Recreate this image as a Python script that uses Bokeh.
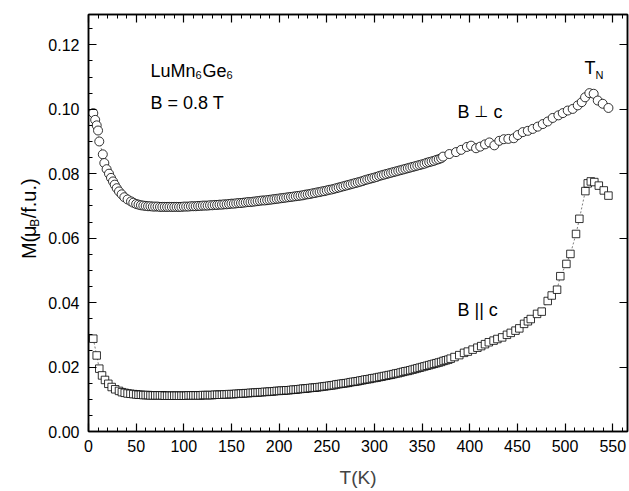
import math
from bokeh.plotting import figure
from bokeh.layouts import row
from bokeh.models import (Range1d, LinearAxis, SingleIntervalTicker, Label,
                          CustomJSTickFormatter, PrintfTickFormatter, ColumnDataSource)
from bokeh.core.properties import value
from bokeh.embed import file_html
from bokeh.resources import INLINE

# ---------------- data ----------------
# B perpendicular to c (circles)
perp_T = [5, 7, 8.6, 10, 11.3, 15, 16.6, 19, 21.5, 23.6, 25.7, 27.5, 29.6, 32, 34.8, 37.6, 41, 44.6, 47, 50,
          52.5, 55, 57.5, 60, 62.5, 65, 67.5, 70, 72.5, 75, 77.5, 80, 82.5, 85, 87.5, 90, 92.5, 95, 97.5, 100,
          102.5, 105, 107.5, 110, 112.5, 115, 117.5, 120, 122.5, 125, 127.5, 130, 132.5, 135, 137.5, 140,
          142.5, 145, 147.5, 150, 152.5, 155, 157.5, 160, 162.5, 165, 167.5, 170, 172.5, 175, 177.5, 180,
          182.5, 185, 187.5, 190, 192.5, 195, 197.5, 200, 202.5, 205, 207.5, 210, 212.5, 215, 217.5, 220,
          222.5, 225, 227.5, 230, 232.5, 235, 237.5, 240, 242.5, 245, 247.5, 250, 252.5, 255, 257.5, 260,
          262.5, 265, 267.5, 270, 272.5, 275, 277.5, 280, 282.5, 285, 287.5, 290, 292.5, 295, 297.5, 300,
          302.5, 305, 307.5, 310, 312.5, 315, 317.5, 320, 322.5, 325, 327.5, 330, 332.5, 335, 337.5, 340,
          342.5, 345, 347.5, 350, 352.5, 355, 357.5, 360, 362.5, 365, 367.5, 370,
          372, 378.6, 385.6, 391, 397, 401.4, 406.6, 411, 416, 420.6, 425.8, 431, 435.7, 440.5, 446.2, 450.4,
          455.6, 460.9, 466, 471.3, 476.6, 481.8, 487, 493, 497.6, 502.8, 508, 513.3, 517.5, 521, 525.5, 530,
          534.3, 539.5, 545.5]
perp_M = [0.0988, 0.0967, 0.0950, 0.0934, 0.0900, 0.0860, 0.0833, 0.0814, 0.0800, 0.0787, 0.0776, 0.0766, 0.0755,
          0.0745, 0.0736, 0.0727, 0.0720, 0.0714, 0.0710, 0.0706,
          0.0704, 0.0702, 0.0701, 0.0700, 0.0699, 0.0699, 0.0698, 0.0698, 0.0698, 0.0697, 0.0697, 0.0697, 0.0697,
          0.0697, 0.0697, 0.0697, 0.0697, 0.0697, 0.0697, 0.0698,
          0.0698, 0.0698, 0.0699, 0.0699, 0.0699, 0.0700, 0.0700, 0.0701, 0.0701, 0.0701, 0.0702, 0.0702, 0.0703,
          0.0703, 0.0704, 0.0704,
          0.0705, 0.0705, 0.0706, 0.0707, 0.0707, 0.0708, 0.0709, 0.0709, 0.0710, 0.0711, 0.0712, 0.0712, 0.0713,
          0.0714, 0.0715, 0.0716,
          0.0717, 0.0717, 0.0718, 0.0719, 0.0720, 0.0721, 0.0722, 0.0723, 0.0724, 0.0725, 0.0726, 0.0727, 0.0728,
          0.0729, 0.0730, 0.0731,
          0.0732, 0.0733, 0.0735, 0.0736, 0.0737, 0.0739, 0.0740, 0.0742, 0.0743, 0.0745, 0.0746, 0.0748, 0.0750,
          0.0751, 0.0753, 0.0755,
          0.0757, 0.0759, 0.0761, 0.0763, 0.0765, 0.0767, 0.0769, 0.0771, 0.0773, 0.0775, 0.0777, 0.0780, 0.0782,
          0.0784, 0.0786, 0.0788,
          0.0790, 0.0793, 0.0795, 0.0797, 0.0799, 0.0801, 0.0803, 0.0805, 0.0807, 0.0809, 0.0811, 0.0813, 0.0815,
          0.0817, 0.0819, 0.0821,
          0.0823, 0.0825, 0.0827, 0.0829, 0.0831, 0.0834, 0.0836, 0.0838, 0.0840, 0.0843, 0.0845, 0.0848,
          0.0853, 0.0861, 0.0867, 0.0874, 0.0883, 0.0887, 0.0879, 0.0884, 0.0891, 0.0897, 0.0888, 0.0902, 0.0907,
          0.0908, 0.0910, 0.0920,
          0.0929, 0.0933, 0.0939, 0.0946, 0.0954, 0.0962, 0.0973, 0.0981, 0.0988, 0.0996, 0.1001, 0.1012, 0.1022,
          0.1037, 0.1050, 0.1048,
          0.1027, 0.1017, 0.1004]

# B parallel to c (squares)
par_T = [5, 8.6, 11.3, 14.2, 17.3, 20.8, 24.3, 28, 32, 35, 38, 41, 44, 47, 50,
         52.5, 55, 57.5, 60, 62.5, 65, 67.5, 70, 72.5, 75, 77.5, 80, 82.5, 85, 87.5, 90, 92.5, 95, 97.5, 100,
         102.5, 105, 107.5, 110, 112.5, 115, 117.5, 120, 122.5, 125, 127.5, 130, 132.5, 135, 137.5, 140,
         142.5, 145, 147.5, 150, 152.5, 155, 157.5, 160, 162.5, 165, 167.5, 170, 172.5, 175, 177.5, 180,
         182.5, 185, 187.5, 190, 192.5, 195, 197.5, 200, 202.5, 205, 207.5, 210, 212.5, 215, 217.5, 220,
         222.5, 225, 227.5, 230, 232.5, 235, 237.5, 240, 242.5, 245, 247.5, 250, 252.5, 255, 257.5, 260,
         262.5, 265, 267.5, 270, 272.5, 275, 277.5, 280, 282.5, 285, 287.5, 290, 292.5, 295, 297.5, 300,
         302.5, 305, 307.5, 310, 312.5, 315, 317.5, 320, 322.5, 325, 327.5, 330, 332.5, 335, 337.5, 340,
         342.5, 345, 347.5, 350, 352.5, 355, 357.5, 360, 362.5, 365, 367.5, 370, 372.5, 375, 377.5, 380,
         384, 389, 394, 398, 403, 408, 412, 416, 420, 425, 429, 434, 439, 443, 448, 452, 457, 461, 464,
         470.6, 475.5, 481.8, 486, 491.6, 495, 501.4, 505.6, 511.5, 515, 521.3, 523.8, 527, 530.7, 535.4,
         540.6, 545.5]
par_M = [0.0288, 0.0236, 0.0195, 0.0174, 0.0160, 0.0148, 0.0138, 0.0131, 0.0126, 0.0122, 0.0120, 0.0118, 0.0117,
         0.0116, 0.0115,
         0.0114, 0.0114, 0.0113, 0.0113, 0.0113, 0.0112, 0.0112, 0.0112, 0.0112, 0.0112, 0.0112, 0.0111, 0.0111,
         0.0111, 0.0111, 0.0111, 0.0111, 0.0111, 0.0111, 0.0111,
         0.0111, 0.0112, 0.0112, 0.0112, 0.0112, 0.0112, 0.0112, 0.0113, 0.0113, 0.0113, 0.0113, 0.0113, 0.0114,
         0.0114, 0.0114, 0.0114,
         0.0115, 0.0115, 0.0116, 0.0116, 0.0116, 0.0117, 0.0117, 0.0118, 0.0118, 0.0119, 0.0119, 0.0120, 0.0120,
         0.0121, 0.0121, 0.0122,
         0.0122, 0.0123, 0.0123, 0.0124, 0.0124, 0.0125, 0.0126, 0.0126, 0.0127, 0.0127, 0.0128, 0.0128, 0.0129,
         0.0130, 0.0130, 0.0131,
         0.0132, 0.0133, 0.0133, 0.0134, 0.0135, 0.0136, 0.0136, 0.0137, 0.0138, 0.0139, 0.0140, 0.0141, 0.0142,
         0.0143, 0.0144, 0.0146,
         0.0147, 0.0148, 0.0149, 0.0150, 0.0151, 0.0153, 0.0154, 0.0155, 0.0156, 0.0158, 0.0159, 0.0161, 0.0162,
         0.0163, 0.0165, 0.0166,
         0.0167, 0.0169, 0.0170, 0.0172, 0.0173, 0.0175, 0.0176, 0.0178, 0.0180, 0.0181, 0.0183, 0.0185, 0.0187,
         0.0188, 0.0190, 0.0192,
         0.0194, 0.0196, 0.0198, 0.0200, 0.0202, 0.0204, 0.0206, 0.0208, 0.0210, 0.0212, 0.0214, 0.0216, 0.0219,
         0.0221, 0.0223, 0.0226,
         0.0231, 0.0237, 0.0244, 0.0248, 0.0254, 0.0260, 0.0265, 0.0271, 0.0277, 0.0282, 0.0287, 0.0292, 0.0300,
         0.0306, 0.0313, 0.0320, 0.0334, 0.0342, 0.0349,
         0.0365, 0.0372, 0.0405, 0.0422, 0.0440, 0.0482, 0.0520, 0.0551, 0.0613, 0.0660, 0.0746, 0.0770, 0.0776,
         0.0774, 0.0763,
         0.0748, 0.0732]

# ---------------- layout constants ----------------
FONT = "Liberation Sans"
SYM_FONT = "DejaVu Sans"
W, H = 629, 491
LW = 44                    # strip on the left holding the rotated y label
L, R, T, B = 88, 2, 14, 60  # frame position in the whole window
XMAX, YMAX = 565.5, 0.1294
FW, FH = W - L - R, H - T - B


def dx(px):  # window px -> data x (text placement only)
    return (px - L) * XMAX / FW


def dy(py):  # window py -> data y (text placement only)
    return (T + FH - py) * YMAX / FH


p = figure(width=W - LW, height=H, output_backend="svg", toolbar_location=None,
           x_range=Range1d(0, XMAX), y_range=Range1d(0, YMAX),
           x_axis_location=None, y_axis_location=None,
           min_border_left=L - LW, min_border_right=R, min_border_top=T, min_border_bottom=B)
p.grid.visible = False
p.outline_line_color = "black"
p.outline_line_width = 1.5
p.background_fill_color = "white"
p.border_fill_color = "white"


def style_axis(ax, labels=True, minor=True):
    ax.axis_line_color = "black"
    ax.axis_line_width = 1.5
    ax.major_tick_in = 8
    ax.major_tick_out = 0
    ax.minor_tick_in = 4 if minor else 0
    ax.minor_tick_out = 0
    ax.major_tick_line_color = "black"
    ax.minor_tick_line_color = "black"
    ax.major_tick_line_width = 1.2
    ax.minor_tick_line_width = 1
    if labels:
        ax.major_label_text_font = FONT
        ax.major_label_text_font_size = "16px"
        ax.major_label_text_color = "black"
    else:
        ax.formatter = CustomJSTickFormatter(code="return ''")
        ax.major_label_text_font_size = "0px"
        ax.major_label_standoff = 0


xb = LinearAxis(ticker=SingleIntervalTicker(interval=50, num_minor_ticks=5))
style_axis(xb)
xb.major_label_standoff = 8
xb.axis_label = "T(K)"
xb.axis_label_text_font = FONT
xb.axis_label_text_font_size = "19px"
xb.axis_label_text_font_style = "normal"
xb.axis_label_standoff = 12
p.add_layout(xb, "below")

yl = LinearAxis(ticker=SingleIntervalTicker(interval=0.02, num_minor_ticks=4),
                formatter=PrintfTickFormatter(format="%.2f"))
style_axis(yl)
yl.major_label_standoff = 9
p.add_layout(yl, "left")

xt = LinearAxis(ticker=SingleIntervalTicker(interval=50, num_minor_ticks=5))
style_axis(xt, labels=False)
p.add_layout(xt, "above")

yr = LinearAxis(ticker=SingleIntervalTicker(interval=0.02, num_minor_ticks=4))
style_axis(yr, labels=False, minor=False)
p.add_layout(yr, "right")

# ---------------- data marks ----------------
src_perp = ColumnDataSource(dict(T=perp_T, M=perp_M))
src_par = ColumnDataSource(dict(T=par_T, M=par_M))

p.line("T", "M", source=src_perp, line_color="#444444", line_width=0.7, line_dash="2 2")
p.line("T", "M", source=src_par, line_color="#444444", line_width=0.7, line_dash="2 2")
p.scatter("T", "M", source=src_perp, marker="circle", size=9,
          fill_color="white", line_color="black", line_width=0.8)
p.scatter("T", "M", source=src_par, marker="square", size=7.5,
          fill_color="white", line_color="black", line_width=0.8)


# ---------------- texts inside the frame ----------------
def lab(text, px, py, size, font=FONT):
    p.add_layout(Label(x=dx(px), y=dy(py), text=text,
                       text_font=font, text_font_size=f"{size}px", text_color="black",
                       text_align="left", text_baseline="alphabetic"))


lab("LuMn", 150, 70, 18)
lab("6", 195, 74, 11)
lab("Ge", 202, 70, 18)
lab("6", 226, 74, 11)
lab("B = 0.8 T", 150, 102, 18)

lab("T", 584, 67, 18)
lab("N", 595, 74, 11)

lab("B", 457, 111, 18)
lab("\u22a5", 474, 111, 16, SYM_FONT)
lab("c", 493, 111, 18)
lab("B || c", 457, 309, 18)

# ---------------- left strip with the rotated y-axis label ----------------
lf = figure(width=LW, height=H, output_backend="svg", toolbar_location=None,
            x_range=Range1d(0, LW), y_range=Range1d(0, H),
            x_axis_location=None, y_axis_location=None,
            min_border=0, min_border_left=0, min_border_right=0,
            min_border_top=0, min_border_bottom=0)
lf.grid.visible = False
lf.outline_line_color = None
lf.background_fill_color = "white"
lf.border_fill_color = "white"


def vlab(text, px, py, size):
    lf.text(x=[px], y=[H - py], text=[text], angle=math.pi / 2,
            text_font=value(FONT), text_font_size=f"{size}px", text_color="black",
            text_align="left", text_baseline="alphabetic")


vlab("M(", 28, 288, 20)
vlab("\u03bc", 28, 262, 20)
vlab("B", 34, 250, 12)
vlab("/f.u.)", 28, 240, 20)

layout = row(lf, p, spacing=0)
open("out.html", "w").write(file_html(layout, INLINE))
